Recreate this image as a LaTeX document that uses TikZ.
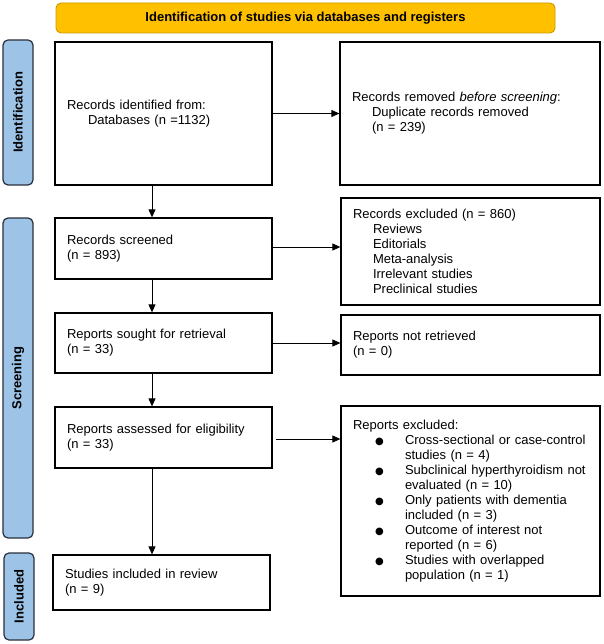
\documentclass[tikz,border=0pt]{standalone}
\usepackage{fontspec}
\setmainfont{Liberation Sans}
\newfontfamily\dejavu{DejaVu Sans}
\usetikzlibrary{arrows.meta}
\definecolor{bannerfill}{HTML}{FFC000}
\definecolor{bannerline}{HTML}{C99A00}
\definecolor{lblfill}{HTML}{9DC3E6}
\definecolor{lblline}{HTML}{28303C}
\newcommand{\bul}{\makebox[28pt][l]{\hspace*{-2pt}{\dejavu\fontsize{10}{15}\selectfont ●}}}
\begin{document}
\begin{tikzpicture}[x=1pt,y=-1pt,
  box/.style={draw=black, line width=1.25pt, fill=white, align=left,
    inner xsep=12pt, inner ysep=0pt, font=\fontsize{13}{15}\selectfont},
  lbl/.style={draw=lblline, line width=1.2pt, fill=lblfill, rounded corners=5pt,
    rotate=90, minimum height=30pt, inner sep=0pt,
    font=\bfseries\fontsize{13}{15}\selectfont},
  banner/.style={draw=bannerline, line width=0.9pt, fill=bannerfill, rounded corners=5pt,
    inner sep=0pt, font=\bfseries\fontsize{13}{15}\selectfont},
  arr/.style={line width=0.9pt, -{Triangle[length=8pt,width=7pt]}}]
\useasboundingbox (0,0) rectangle (603,644);

\node[banner, minimum width=499pt, minimum height=30pt] (banner) at (305.5,18)
  {Identification of studies via databases and registers};

\node[lbl, minimum width=145pt] (identlbl) at (18,112.5) {Identification};
\node[lbl, minimum width=320pt] (screenlbl) at (18,378) {Screening};
\node[lbl, minimum width=87pt] (inclbl) at (19,596.5) {Included};

\node[box, minimum width=217pt, minimum height=143pt, text width=193pt] (box1) at (163.5,113.5)
  {Records identified from:\\\hspace*{21pt}Databases (n =1132)};
\node[box, minimum width=260pt, minimum height=143pt, text width=236pt] (removed) at (470,113.5)
  {Records removed \textit{before screening}:\\\hspace*{20pt}Duplicate records removed\\\hspace*{20pt}(n = 239)};

\node[box, minimum width=217pt, minimum height=61pt, text width=193pt] (screened) at (163.5,248.5)
  {Records screened\\(n = 893)};
\node[box, minimum width=259pt, minimum height=107pt, text width=235pt] (excl1) at (470.5,251.5)
  {Records excluded (n = 860)\\\hspace*{20pt}Reviews\\\hspace*{20pt}Editorials\\\hspace*{20pt}Meta-analysis\\\hspace*{20pt}Irrelevant studies\\\hspace*{20pt}Preclinical studies};

\node[box, minimum width=217pt, minimum height=60pt, text width=193pt] (sought) at (163.5,343)
  {Reports sought for retrieval\\(n = 33)};
\node[box, minimum width=259pt, minimum height=60pt, text width=235pt] (notretr) at (470.5,345)
  {Reports not retrieved\\(n = 0)};

\node[box, minimum width=217pt, minimum height=61pt, text width=193pt] (assessed) at (163.5,437.5)
  {Reports assessed for eligibility\\(n = 33)};
\node[box, minimum width=259pt, minimum height=190pt, text width=235pt] (excl2) at (470.5,501)
  {Reports excluded:\\
   \hspace*{24pt}\bul Cross-sectional or case-control\\
   \hspace*{52pt}studies (n = 4)\\
   \hspace*{24pt}\bul Subclinical hyperthyroidism not\\
   \hspace*{52pt}evaluated (n = 10)\\
   \hspace*{24pt}\bul Only patients with dementia\\
   \hspace*{52pt}included (n = 3)\\
   \hspace*{24pt}\bul Outcome of interest not\\
   \hspace*{52pt}reported (n = 6)\\
   \hspace*{24pt}\bul Studies with overlapped\\
   \hspace*{52pt}population (n = 1)};

\node[box, minimum width=217pt, minimum height=55pt, text width=193pt] (studies) at (161.5,582.5)
  {Studies included in review\\(n = 9)};

\coordinate (ax) at (152,0);
\draw[arr] (box1.south -| ax) -- (screened.north -| ax);
\draw[arr] (screened.south -| ax) -- (sought.north -| ax);
\draw[arr] (sought.south -| ax) -- (assessed.north -| ax);
\draw[arr] (assessed.south -| ax) -- (studies.north -| ax);

\draw[arr] (box1.east) -- (box1.east -| removed.west);
\draw[arr] ([yshift=1.5pt]screened.east) -- ([yshift=1.5pt]screened.east -| excl1.west);
\draw[arr] (sought.east) -- (sought.east -| notretr.west);
\draw[arr] ([xshift=3pt,yshift=-1.5pt]assessed.east) -- ([yshift=-1.5pt]assessed.east -| excl2.west);
\end{tikzpicture}
\end{document}
